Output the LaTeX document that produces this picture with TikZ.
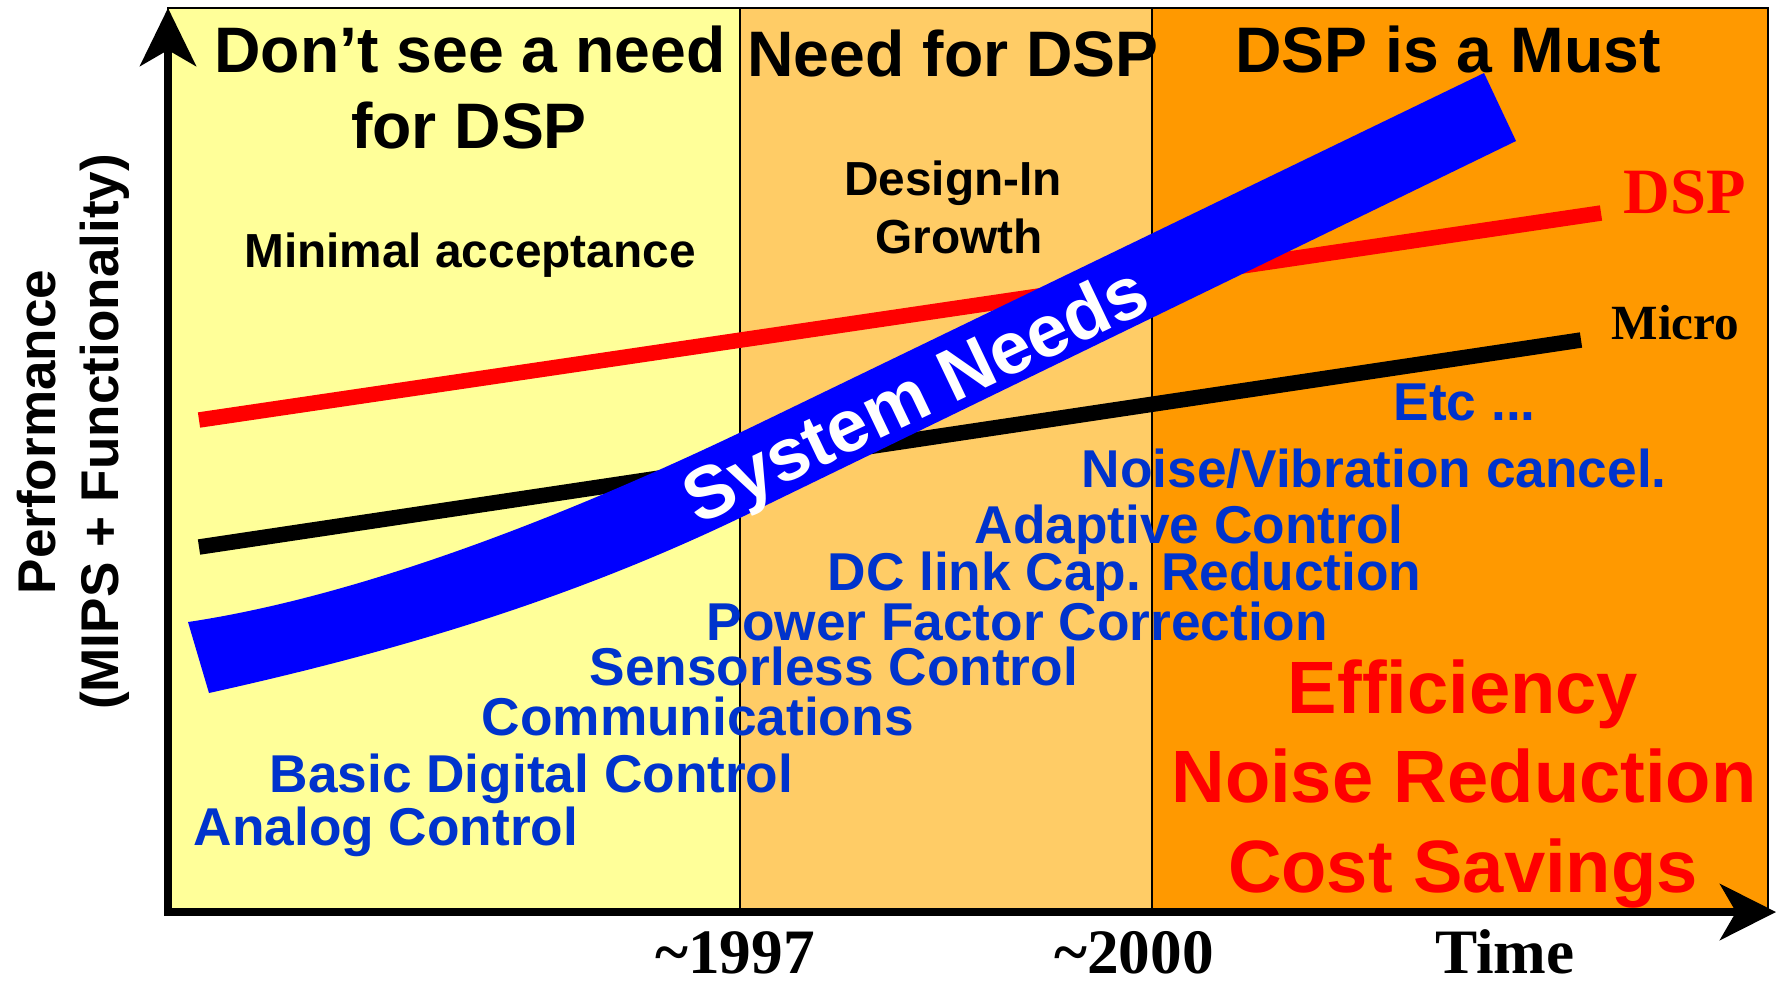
\documentclass[tikz,border=0pt]{standalone}
\usepackage{fontspec}
\setmainfont{Liberation Sans}
\newfontfamily\tnr{Liberation Serif}
\usetikzlibrary{arrows.meta}
\definecolor{cyel}{HTML}{FFFF99}
\definecolor{clor}{HTML}{FFCC66}
\definecolor{cor}{HTML}{FF9900}
\definecolor{cblu}{HTML}{0000FF}
\definecolor{ctxt}{HTML}{0033CC}
\definecolor{cred}{HTML}{FF0000}
\tikzset{
  region/.style={draw=black, line width=0.18mm},
  axis/.style={line width=0.8mm, line join=miter,
    {Stealth[length=5.8mm, width=5.6mm, inset=1.6mm]}-{Stealth[length=5.6mm, width=5.6mm, inset=1.6mm]}},
  trend/.style={line width=1.55mm, line cap=butt},
  head/.style={font=\bfseries\fontsize{18.3}{21}\selectfont, inner sep=0, anchor=base},
  sub/.style={font=\bfseries\fontsize{13.6}{16}\selectfont, inner sep=0, anchor=base},
  item/.style={font=\bfseries\fontsize{15.15}{18}\selectfont, text=ctxt, inner sep=0, anchor=base west},
  big/.style={font=\bfseries\fontsize{21.1}{25}\selectfont, text=cred, inner sep=0, anchor=base},
  ylab/.style={font=\bfseries\fontsize{15.1}{18}\selectfont, inner sep=0, anchor=base, rotate=90},
  tlab/.style={font=\tnr\bfseries\fontsize{18}{20}\selectfont, inner sep=0, anchor=base},
  band/.style={fill=cblu},
  bandtext/.style={font=\bfseries\fontsize{21}{24}\selectfont, text=white, inner sep=0, anchor=base, rotate=25.5}
}
\begin{document}
\begin{tikzpicture}[x=0.1mm, y=-0.1mm]
\useasboundingbox (0,0) rectangle (1783,985);
% regions
\filldraw[region, fill=cyel] (168,8) rectangle (740,912);
\filldraw[region, fill=clor] (740,8) rectangle (1152,912);
\filldraw[region, fill=cor] (1152,8) rectangle (1768,912);
% axes
\coordinate (ytop) at (168,8);
\coordinate (orig) at (168,912);
\coordinate (xend) at (1776,912);
\draw[axis] (ytop) -- (orig) -- (xend);
% trend lines
\coordinate (dspA) at (199,420);
\coordinate (dspB) at (1601,213);
\coordinate (micA) at (199,547);
\coordinate (micB) at (1581,340);
\draw[trend, cred] (dspA) -- (dspB);
\draw[trend, black] (micA) -- (micB);
% system needs band
\fill[band] (188,622) .. controls (368,595) and (580,510) .. (760,423)
  -- (1484,73) -- (1516,141) -- (746,515)
  .. controls (566,602) and (389,653) .. (209,693) -- cycle;
\node[bandtext] (sysn) at (926,417) {System Needs};
% headings
\node[head] (h1a) at (470,72) {Don’t see a need};
\node[head] (h1b) at (469,148) {for DSP};
\node[head] (h2) at (953,76) {Need for DSP};
\node[head] (h3) at (1448,72) {DSP is a Must};
\node[sub] (minacc) at (470,267) {Minimal acceptance};
\node[sub] (desin) at (953,195) {Design-In};
\node[sub] (grow) at (959,253) {Growth};
% blue list
\node[item] (i1) at (193,845) {Analog Control};
\node[item] (i2) at (269,792) {Basic Digital Control};
\node[item] (i3) at (481,735) {Communications};
\node[item] (i4) at (589,685) {Sensorless Control};
\node[item] (i5) at (706,640) {Power Factor Correction};
\node[item] (i6) at (827,590) {DC link Cap. Reduction};
\node[item] (i7) at (974,543) {Adaptive Control};
\node[item] (i8) at (1081,487) {Noise/Vibration cancel.};
\node[item] (i9) at (1393,420) {Etc ...};
% red benefits
\node[big] (b1) at (1463,713) {Efficiency};
\node[big] (b2) at (1464,802) {Noise Reduction};
\node[big] (b3) at (1463,892) {Cost Savings};
% line labels
\node[font=\tnr\bfseries\fontsize{18.4}{20}\selectfont, text=cred, inner sep=0, anchor=base west] (ldsp) at (1623,213) {DSP};
\node[font=\tnr\bfseries\fontsize{14}{16}\selectfont, inner sep=0, anchor=base west] (lmic) at (1611,339) {Micro};
% axis labels
\node[tlab] (y97) at (735,973) {\textasciitilde1997};
\node[tlab] (y00) at (1134,973) {\textasciitilde2000};
\node[tlab] (time) at (1505,973) {Time};
\node[ylab] (perf) at (55,432) {Performance};
\node[ylab] (mips) at (118,432) {(MIPS + Functionality)};
\end{tikzpicture}
\end{document}
